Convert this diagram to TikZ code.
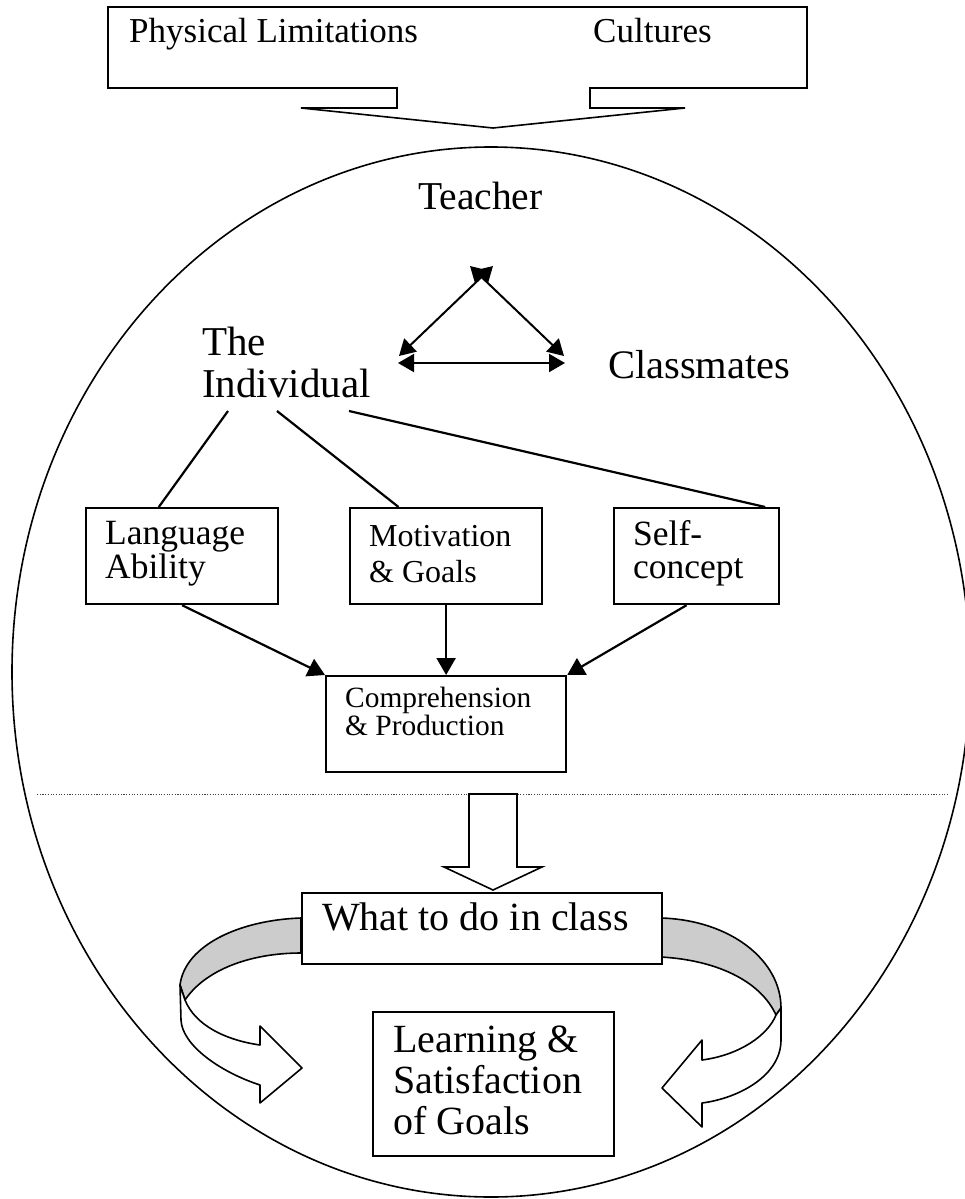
\documentclass[tikz,border=0pt]{standalone}
\usepackage{fontspec}
\setmainfont{Liberation Serif}
\usetikzlibrary{arrows.meta,calc}
% left-aligned stack of lines whose baseline is that of the first line
\newcommand{\linestack}[1]{\vtop{\halign{##\hfil\cr#1\crcr}}}
\newcommand{\fsz}[2]{\fontsize{#1}{#2}\selectfont}
\tikzset{
  boxed/.style={draw, line width=2.2pt, inner sep=0pt, anchor=north west, fill=white},
  txt/.style={inner sep=0pt, anchor=base west},
  conn/.style={line width=2.2pt},
  feed/.style={line width=2.2pt, -{Triangle[length=17pt,width=19pt]}},
  tri/.style={line width=2pt, {Triangle[length=16pt,width=18pt]}-{Triangle[length=16pt,width=18pt]}},
  ribbon/.style={line width=1.6pt, line join=round},
}
\begin{document}
\begin{tikzpicture}[x=1pt,y=-1pt]
\useasboundingbox (0,0) rectangle (965,1199);

% the classroom
\draw[line width=1.6pt] (491,672) ellipse [x radius=479pt, y radius=525pt];

% outside influences, as a callout pointing into the classroom
\draw[line width=1.6pt, line join=miter]
  (108,7) -- (807,7) -- (807,88) -- (590,88) -- (590,108) -- (685,108)
  -- (493,128) -- (301,108) -- (397,108) -- (397,88) -- (108,88) -- cycle;
\node[txt, font=\fsz{35}{38}] (phys) at (129,43) {Physical Limitations};
\node[txt, font=\fsz{35}{38}] (cult) at (593,43) {Cultures};

% people in the room
\node[txt, font=\fsz{39.5}{42}] (teacher) at (418,209) {Teacher};
\node[txt, font=\fsz{40.5}{42}] (mates) at (608,378) {Classmates};
\node[txt, font=\fsz{41}{42}] (ind) at (202,355) {\linestack{The\cr Individual}};

% interaction triangle
\coordinate (ta1) at (493,266);
\coordinate (ta2) at (470,266);
\coordinate (tl) at (399,356);
\coordinate (tr) at (564,356);
\coordinate (bl) at (398,363);
\coordinate (br) at (565,363);
\draw[tri] (tl) -- (ta1);
\draw[tri] (tr) -- (ta2);
\draw[tri] (bl) -- (br);

% factors of the individual
\node[boxed, minimum width=192pt, minimum height=96pt] (la) at (85,507) {};
\node[boxed, minimum width=192pt, minimum height=96pt] (mg) at (349,507) {};
\node[boxed, minimum width=165pt, minimum height=96pt] (sc) at (613,507) {};
\node[txt, font=\fsz{35.5}{34}] (latext) at (105,544) {\linestack{Language\cr Ability}};
\node[txt, font=\fsz{32}{36}] (mgtext) at (369,546) {\linestack{Motivation\cr \& Goals}};
\node[txt, font=\fsz{35.5}{33}] (sctext) at (633,545) {\linestack{Self-\cr concept}};

\coordinate (i1) at (228,411);
\coordinate (i2) at (277,411);
\coordinate (i3) at (349,411);
\draw[conn] (i1) -- ($(la.north west)!0.38!(la.north east)$);
\draw[conn] (i2) -- ($(mg.north west)!0.255!(mg.north east)$);
\draw[conn] (i3) -- ($(sc.north west)!0.91!(sc.north east)$);

% comprehension and production
\node[boxed, minimum width=240pt, minimum height=96pt] (cp) at (325,675) {};
\node[txt, font=\fsz{29.4}{28}] (cptext) at (345,707) {\linestack{Comprehension\cr \& Production}};
\draw[feed] (la.south) -- (cp.north west);
\draw[feed] (mg.south) -- (mg.south |- cp.north);
\draw[feed] ($(sc.south west)!0.44!(sc.south east)$) -- (cp.north east);

% divider
\draw[line width=0.9pt, black!75, dash pattern=on 1.1pt off 1.6pt] (37,794) -- (947,794);

% hollow block arrow down to the class activities
\draw[line width=1.6pt, fill=white, line join=miter]
  (469,794) -- (517,794) -- (517,867) -- (542,867) -- (493,890)
  -- (444,867) -- (469,867) -- cycle;

% left ribbon arrow
\draw[ribbon, fill=gray!40]
  (301,918) .. controls (240,920) and (185,945) .. (180,985)
  -- (185,1000) .. controls (205,970) and (250,953) .. (301,953) -- cycle;
\draw[ribbon, fill=white]
  (180,985) -- (181,1020) .. controls (182,1045) and (220,1072) .. (260,1085)
  -- (260,1103) -- (302,1068) -- (260,1026) -- (260,1045)
  .. controls (225,1040) and (195,1025) .. (185,1000) -- cycle;

% right ribbon arrow
\draw[ribbon, fill=gray!40]
  (661,918) .. controls (730,920) and (781,960) .. (781,1008)
  -- (776,1015) .. controls (760,980) and (715,960) .. (661,957) -- cycle;
\draw[ribbon, fill=white]
  (781,1008) -- (781,1040) .. controls (781,1075) and (740,1098) .. (702,1103)
  -- (702,1127) -- (662,1088) -- (702,1040) -- (702,1060)
  .. controls (740,1055) and (768,1035) .. (776,1015) -- cycle;

% class activity and outcome
\node[boxed, minimum width=360pt, minimum height=71pt] (wtd) at (301,892) {};
\node[txt, font=\fsz{40}{42}] (wtdtext) at (322,930) {What to do in class};
\node[boxed, minimum width=241pt, minimum height=144pt] (lsg) at (372,1011) {};
\node[txt, font=\fsz{40}{41}] (lsgtext) at (393,1052) {\linestack{Learning \&\cr Satisfaction\cr of Goals}};
\end{tikzpicture}
\end{document}
